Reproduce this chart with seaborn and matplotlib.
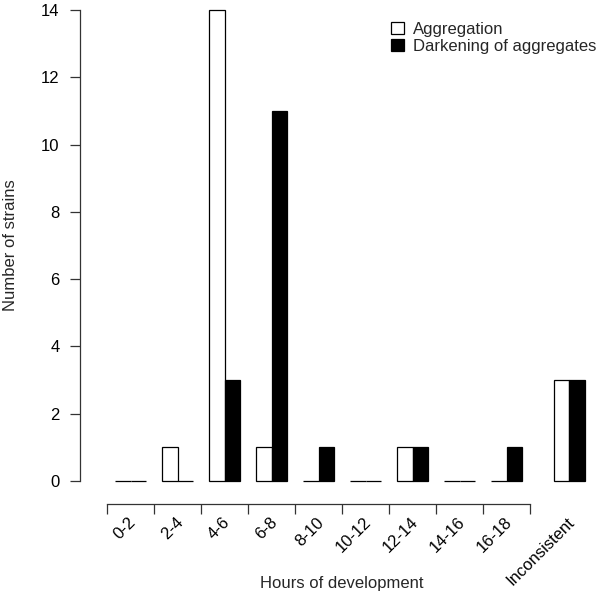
import numpy as np
import pandas as pd
import matplotlib
matplotlib.use("Agg")
import matplotlib.pyplot as plt
from matplotlib.patches import Patch
import seaborn as sns

# dados
categorias = ["0-2", "2-4", "4-6", "6-8", "8-10", "10-12", "12-14", "14-16", "16-18", "Inconsistent"]
agregacao = [0, 1, 14, 1, 0, 0, 1, 0, 0, 3]
escurecimento = [0, 0, 3, 11, 1, 0, 1, 0, 1, 3]
series = ["Aggregation", "Darkening of aggregates"]
cores = {"Aggregation": "white", "Darkening of aggregates": "black"}

sns.set_theme(style="ticks")
plt.rcParams["font.family"] = ["Liberation Sans", "DejaVu Sans"]
TAM = 12

# posição de cada grupo (em larguras de barra), com espaço extra antes de "Inconsistent"
inicio = np.array([1 + 3 * k + (1 if c == "Inconsistent" else 0) for k, c in enumerate(categorias)], dtype=float)

linhas = []
for i, c in enumerate(categorias):
    linhas.append({"pos": inicio[i] + 0.5, "valor": agregacao[i], "serie": series[0]})
    linhas.append({"pos": inicio[i] + 1.5, "valor": escurecimento[i], "serie": series[1]})
df = pd.DataFrame(linhas)

fig = plt.figure(figsize=(6, 5.99), dpi=100)
ax = fig.add_axes([80 / 600, (599 - 504) / 599, 520 / 600, 504 / 599])

sns.barplot(data=df, x="pos", y="valor", hue="serie", palette=cores, native_scale=True,
            dodge=False, width=1, saturation=1, errorbar=None, edgecolor="black",
            linewidth=0.9, legend=False, ax=ax)

ax.set_xlim(-1.223, 31.96)
ax.set_ylim(-0.684, 14.297)

cor_eixo = "#333333"
for lado in ["top", "right"]:
    ax.spines[lado].set_visible(False)
ax.spines["left"].set_bounds(0, 14)
ax.spines["bottom"].set_bounds(0.5, 27.5)
for lado in ["left", "bottom"]:
    ax.spines[lado].set_color(cor_eixo)
    ax.spines[lado].set_linewidth(0.9)

ax.set_yticks(range(0, 15, 2))
ax.tick_params(axis="y", length=7.2, width=0.9, color=cor_eixo, pad=7.5, labelsize=TAM, labelcolor="black")

# marcas nas fronteiras das horas (0, 2, ..., 18)
ax.set_xticks(0.5 + 3 * np.arange(10))
ax.set_xticklabels([])
ax.tick_params(axis="x", which="major", length=7.2, width=0.9, color=cor_eixo)

# rótulos das categorias no centro de cada grupo
ax.set_xticks(inicio + 1.2, minor=True)
ax.set_xticklabels(categorias, minor=True)
ax.tick_params(axis="x", which="minor", length=0, pad=11.5, labelsize=TAM, labelcolor="black")
plt.setp(ax.get_xticklabels(minor=True), rotation=45, ha="right", va="center", rotation_mode="anchor")

ax.set_xlabel("Hours of development", fontsize=TAM)
ax.set_ylabel("Number of strains", fontsize=TAM)
ax.xaxis.set_label_coords(0.503, -0.142)
ax.yaxis.set_label_coords(-0.119, 0.514)

alcas = [Patch(facecolor=cores[s], edgecolor="black", linewidth=0.9, label=s) for s in series]
ax.legend(handles=alcas, loc="upper left", bbox_to_anchor=(391 / 600, 1 - 22 / 599),
          bbox_transform=fig.transFigure, frameon=False, borderpad=0, borderaxespad=0,
          handlelength=0.78, handleheight=0.7, handletextpad=0.55, labelspacing=0.1, fontsize=TAM)

fig.savefig("out.png", dpi=100)
